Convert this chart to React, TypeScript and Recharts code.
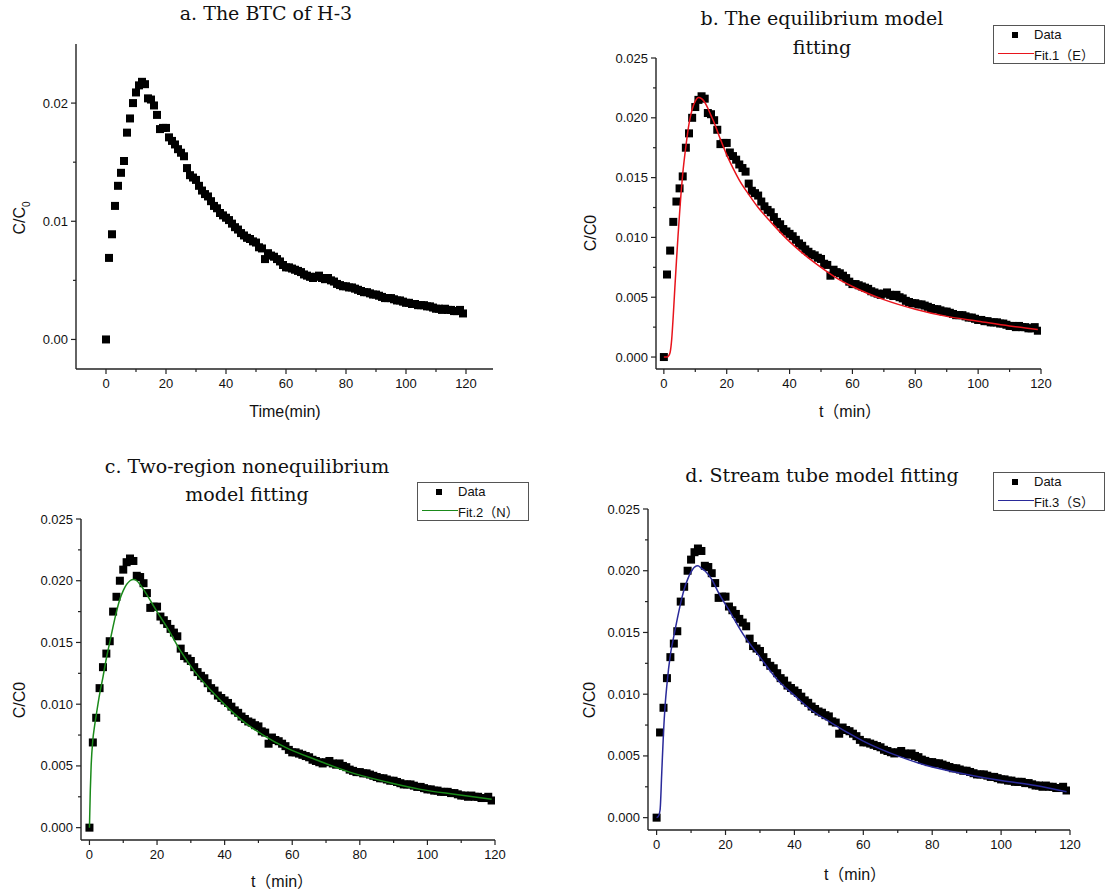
import { ComposedChart, Line, Scatter, XAxis, YAxis } from "recharts";

// measured breakthrough curve, one reading per minute
const minutes = [
  0, 1, 2, 3, 4, 5, 6, 7, 8, 9, 10, 11, 12, 13, 14, 15, 16, 17, 18, 19,
  20, 21, 22, 23, 24, 25, 26, 27, 28, 29, 30, 31, 32, 33, 34, 35, 36, 37, 38, 39,
  40, 41, 42, 43, 44, 45, 46, 47, 48, 49, 50, 51, 52, 53, 54, 55, 56, 57, 58, 59,
  60, 61, 62, 63, 64, 65, 66, 67, 68, 69, 70, 71, 72, 73, 74, 75, 76, 77, 78, 79,
  80, 81, 82, 83, 84, 85, 86, 87, 88, 89, 90, 91, 92, 93, 94, 95, 96, 97, 98, 99,
  100, 101, 102, 103, 104, 105, 106, 107, 108, 109, 110, 111, 112, 113, 114, 115, 116, 117, 118, 119,
];
const ratio = [
  0.0, 0.0069, 0.0089, 0.0113, 0.013, 0.0141, 0.0151, 0.0175, 0.0187, 0.02,
  0.0209, 0.0215, 0.0218, 0.0216, 0.0204, 0.0203, 0.0198, 0.019, 0.0178, 0.0179,
  0.0179, 0.0171, 0.0168, 0.0165, 0.0161, 0.0158, 0.0155, 0.0145, 0.0139, 0.0137,
  0.0135, 0.013, 0.0126, 0.0123, 0.0121, 0.0117, 0.0113, 0.0111, 0.0107, 0.0105,
  0.0103, 0.0101, 0.0098, 0.0095, 0.0093, 0.009, 0.0088, 0.0086, 0.0085, 0.0083,
  0.0082, 0.0078, 0.0077, 0.0068, 0.0073, 0.0071, 0.007, 0.0068, 0.0066, 0.0063,
  0.0061, 0.0061, 0.006, 0.0059, 0.0058, 0.0057, 0.0055, 0.0054, 0.0053, 0.0052,
  0.0053, 0.0054, 0.0052, 0.0051, 0.0052, 0.005, 0.0049, 0.0047, 0.0046, 0.0045,
  0.0045, 0.0044, 0.0044, 0.0043, 0.0042, 0.0041, 0.004, 0.004, 0.0039, 0.0038,
  0.0038, 0.0037, 0.0036, 0.0035, 0.0035, 0.0035, 0.0034, 0.0033, 0.0033, 0.0032,
  0.0031, 0.0031, 0.003, 0.003, 0.0029, 0.0029, 0.0029, 0.0028, 0.0028, 0.0027,
  0.0026, 0.0026, 0.0025, 0.0026, 0.0025, 0.0025, 0.0024, 0.0024, 0.0025, 0.0022,
];

// Fit.1 (E) equilibrium model
const fitETime = [0, 1, 1.5, 2, 2.5, 3, 3.5, 4, 4.5, 5, 5.5, 6, 7, 8, 9, 10, 11, 12, 13, 14, 15, 16, 18, 20, 22, 24, 27, 30, 34, 39, 45, 50, 55, 60, 70, 80, 90, 100, 110, 119];
const fitEValue = [0, 0, 0.0001, 0.0004, 0.0015, 0.0035, 0.0058, 0.008, 0.0101, 0.012, 0.0138, 0.0153, 0.0176, 0.0195, 0.0207, 0.0214, 0.0217, 0.0216, 0.0213, 0.0208, 0.0202, 0.0196, 0.0182, 0.0169, 0.0158, 0.0148, 0.0136, 0.0125, 0.0113, 0.0099, 0.0085, 0.0075, 0.0066, 0.0059, 0.0048, 0.004, 0.0034, 0.003, 0.0026, 0.0023];

// Fit.2 (N) two-region nonequilibrium model
const fitNTime = [0, 0.25, 0.5, 1, 1.5, 2, 3, 4, 5, 6, 7, 8, 9, 10, 11, 12, 13, 14, 15, 16, 18, 20, 23, 27, 31, 36, 41, 46, 52, 58, 67, 77, 88, 98, 108, 119];
const fitNValue = [0, 0.003, 0.005, 0.0071, 0.0082, 0.0091, 0.0108, 0.0122, 0.0137, 0.015, 0.0163, 0.0175, 0.0185, 0.0192, 0.0197, 0.02, 0.0201, 0.02, 0.0197, 0.0193, 0.0184, 0.0175, 0.0162, 0.0143, 0.0127, 0.0111, 0.0097, 0.0085, 0.0074, 0.0065, 0.0055, 0.0045, 0.0037, 0.0031, 0.0027, 0.0023];

// Fit.3 (S) stream tube model
const fitSTime = [0, 0.5, 1, 1.5, 2, 2.5, 3, 4, 5, 6, 7, 8, 9, 10, 11, 12, 13, 14, 16, 18, 21, 25, 30, 35, 40, 45, 50, 56, 60, 70, 80, 90, 100, 110, 119];
const fitSValue = [0, 0.0001, 0.0006, 0.0037, 0.0069, 0.0092, 0.0108, 0.0132, 0.0147, 0.0161, 0.0174, 0.0185, 0.0193, 0.0199, 0.0203, 0.0204, 0.0202, 0.02, 0.0193, 0.0182, 0.0168, 0.0149, 0.013, 0.0112, 0.0099, 0.0087, 0.0078, 0.0068, 0.0062, 0.005, 0.0041, 0.0035, 0.003, 0.0026, 0.0021];

const timeTicks = [0, 10, 20, 30, 40, 50, 60, 70, 80, 90, 100, 110, 120];
const ratioTicksA = [0, 0.005, 0.01, 0.015, 0.02];
const ratioTicks = [0, 0.0025, 0.005, 0.0075, 0.01, 0.0125, 0.015, 0.0175, 0.02, 0.0225, 0.025];

const points = minutes.map((t, i) => ({ t, v: ratio[i] }));
const toSeries = (ts: number[], vs: number[]) => ts.map((t, i) => ({ t, v: vs[i] }));

const SANS = '"Liberation Sans", Arial, "Noto Sans CJK SC", sans-serif';
const SERIF = '"DejaVu Serif", "Liberation Serif", serif';
const AXIS_W = 50;
const AXIS_H = 40;
const TITLE = 19;

const square = (p: any) => <rect x={p.cx - 4} y={p.cy - 4} width={8} height={8} fill="#000" />;

function xTick(p: any) {
  const major = p.payload.value % 20 === 0;
  return (
    <g>
      <line x1={p.x} x2={p.x} y1={p.y} y2={p.y + (major ? 5 : 3)} stroke="#222" strokeWidth={1.2} />
      {major && (
        <text x={p.x} y={p.y + 19} textAnchor="middle" fontSize={13} fontFamily={SANS} fill="#111">
          {p.payload.value}
        </text>
      )}
    </g>
  );
}

function makeYTick(step: number, digits: number) {
  return (p: any) => {
    const v = p.payload.value;
    const major = Math.abs(v / step - Math.round(v / step)) < 1e-6;
    return (
      <g>
        <line x1={p.x} x2={p.x - (major ? 5 : 3)} y1={p.y} y2={p.y} stroke="#222" strokeWidth={1.2} />
        {major && (
          <text x={p.x - 8} y={p.y + 4.5} textAnchor="end" fontSize={13} fontFamily={SANS} fill="#111">
            {v.toFixed(digits)}
          </text>
        )}
      </g>
    );
  };
}

type Margin = { top: number; right: number; bottom: number; left: number };
type PanelProps = {
  left: number;
  top: number;
  width: number;
  height: number;
  margin: Margin;
  xDomain: [number, number];
  yDomain: [number, number];
  yTicks: number[];
  yStep: number;
  yDigits: number;
  fit?: { data: { t: number; v: number }[]; color: string };
};

function Panel({ left, top, width, height, margin, xDomain, yDomain, yTicks, yStep, yDigits, fit }: PanelProps) {
  // the fitted curve sits in a second chart on top, so it is drawn over the squares
  const overlayMargin = { ...margin, left: margin.left + AXIS_W, bottom: margin.bottom + AXIS_H };
  return (
    <>
      <div style={{ position: "absolute", left, top }}>
        <ComposedChart width={width} height={height} margin={margin}>
          <XAxis
            type="number"
            dataKey="t"
            domain={xDomain}
            ticks={timeTicks}
            interval={0}
            allowDataOverflow
            tickSize={0}
            tickMargin={0}
            height={AXIS_H}
            tick={xTick}
            axisLine={{ stroke: "#222", strokeWidth: 1.4 }}
          />
          <YAxis
            type="number"
            dataKey="v"
            domain={yDomain}
            ticks={yTicks}
            interval={0}
            allowDataOverflow
            tickSize={0}
            tickMargin={0}
            width={AXIS_W}
            tick={makeYTick(yStep, yDigits)}
            axisLine={{ stroke: "#222", strokeWidth: 1.4 }}
          />
          <Scatter data={points} dataKey="v" shape={square} isAnimationActive={false} />
        </ComposedChart>
      </div>
      {fit && (
        <div style={{ position: "absolute", left, top }}>
          <ComposedChart width={width} height={height} margin={overlayMargin}>
            <XAxis type="number" dataKey="t" domain={xDomain} allowDataOverflow hide />
            <YAxis type="number" dataKey="v" domain={yDomain} allowDataOverflow hide />
            <Line
              data={fit.data}
              dataKey="v"
              type="monotone"
              stroke={fit.color}
              strokeWidth={1.5}
              dot={false}
              activeDot={false}
              isAnimationActive={false}
            />
          </ComposedChart>
        </div>
      )}
    </>
  );
}

function Text({ x, y, size, font, children, rotate }: any) {
  return (
    <div
      style={{
        position: "absolute",
        left: x,
        top: y,
        transform: `translate(-50%, -50%)${rotate ? " rotate(-90deg)" : ""}`,
        fontFamily: font,
        fontSize: size,
        whiteSpace: "nowrap",
        color: "#111",
        lineHeight: 1,
      }}
    >
      {children}
    </div>
  );
}

function LegendBox({ x, y, label, color }: { x: number; y: number; label: string; color: string }) {
  return (
    <div
      style={{
        position: "absolute",
        left: x,
        top: y,
        width: 110,
        height: 37,
        border: "1px solid #555",
        background: "#fff",
        fontFamily: SANS,
        fontSize: 13,
        color: "#111",
      }}
    >
      <div style={{ position: "absolute", left: 18, top: 6, width: 6, height: 6, background: "#000" }} />
      <div style={{ position: "absolute", left: 40, top: 1 }}>Data</div>
      <div style={{ position: "absolute", left: 4, top: 27, width: 36, height: 1.4, background: color }} />
      <div style={{ position: "absolute", left: 40, top: 19 }}>{label}</div>
    </div>
  );
}

const yLabelA = (
  <span>
    C/C<sub style={{ fontSize: 10 }}>0</sub>
  </span>
);

export default function App() {
  return (
    <div style={{ position: "relative", width: 1105, height: 893, background: "#fff", overflow: "hidden" }}>
      <style>{"body{margin:0}"}</style>

      <Panel
        left={0}
        top={0}
        width={552}
        height={440}
        margin={{ top: 44, right: 59, bottom: 31, left: 26 }}
        xDomain={[-10, 129]}
        yDomain={[-0.0025, 0.025]}
        yTicks={ratioTicksA}
        yStep={0.01}
        yDigits={2}
      />
      <Panel
        left={552}
        top={0}
        width={553}
        height={440}
        margin={{ top: 58, right: 64, bottom: 31, left: 54 }}
        xDomain={[-2.5, 120]}
        yDomain={[-0.001, 0.025]}
        yTicks={ratioTicks}
        yStep={0.005}
        yDigits={3}
        fit={{ data: toSeries(fitETime, fitEValue), color: "#e8141c" }}
      />
      <Panel
        left={0}
        top={440}
        width={552}
        height={453}
        margin={{ top: 79, right: 57, bottom: 13, left: 31 }}
        xDomain={[-2.5, 120]}
        yDomain={[-0.001, 0.025]}
        yTicks={ratioTicks}
        yStep={0.005}
        yDigits={3}
        fit={{ data: toSeries(fitNTime, fitNValue), color: "#1a8a1a" }}
      />
      <Panel
        left={552}
        top={440}
        width={553}
        height={453}
        margin={{ top: 69, right: 35, bottom: 23, left: 46 }}
        xDomain={[-2.5, 120]}
        yDomain={[-0.001, 0.025]}
        yTicks={ratioTicks}
        yStep={0.005}
        yDigits={3}
        fit={{ data: toSeries(fitSTime, fitSValue), color: "#2a2a9a" }}
      />

      <Text x={266} y={13} size={TITLE} font={SERIF}>a. The BTC of H-3</Text>
      <Text x={285} y={412} size={16} font={SANS}>Time(min)</Text>
      <Text x={22} y={218} size={16} font={SANS} rotate>{yLabelA}</Text>

      <Text x={822} y={18} size={TITLE} font={SERIF}>b. The equilibrium model</Text>
      <Text x={822} y={47} size={TITLE} font={SERIF}>fitting</Text>
      <Text x={850} y={412} size={16} font={SANS}>t（min）</Text>
      <Text x={591} y={233} size={16} font={SANS} rotate>C/C0</Text>
      <LegendBox x={993} y={25} label="Fit.1（E）" color="#e8141c" />

      <Text x={247} y={466} size={TITLE} font={SERIF}>c. Two-region nonequilibrium</Text>
      <Text x={247} y={494} size={TITLE} font={SERIF}>model fitting</Text>
      <Text x={282} y={882} size={16} font={SANS}>t（min）</Text>
      <Text x={20} y={700} size={16} font={SANS} rotate>C/C0</Text>
      <LegendBox x={417} y={482} label="Fit.2（N）" color="#1a8a1a" />

      <Text x={822} y={475} size={TITLE} font={SERIF}>d. Stream tube model fitting</Text>
      <Text x={855} y={875} size={16} font={SANS}>t（min）</Text>
      <Text x={590} y={700} size={16} font={SANS} rotate>C/C0</Text>
      <LegendBox x={993} y={472} label="Fit.3（S）" color="#2a2a9a" />
    </div>
  );
}
